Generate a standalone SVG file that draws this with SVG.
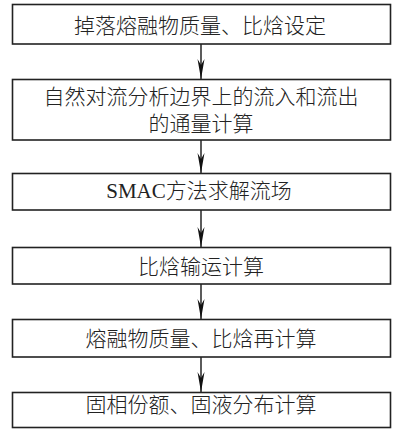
<svg xmlns="http://www.w3.org/2000/svg" width="393" height="429" viewBox="0 0 393 429">
<style>
.box{fill:#fff;stroke:#222;stroke-width:1.6}
.t{font-family:"Liberation Serif","Noto Sans CJK SC",serif;font-size:21px;font-weight:300;fill:#222;text-anchor:middle;dominant-baseline:central}
.c{stroke:#333;stroke-width:1.6;fill:none}
</style>
<defs>
<marker id="ah" markerUnits="userSpaceOnUse" markerWidth="22" markerHeight="8" viewBox="-21 -4 22 8" refX="0" refY="0" orient="auto">
<path d="M0,0 L-20,-3.5 L-14,0 L-20,3.5 Z" fill="#111"/>
</marker>
</defs>
<rect width="393" height="429" fill="#fff"/>
<g id="connectors">
<line class="c" x1="201" y1="44" x2="201" y2="79" marker-end="url(#ah)"/>
<line class="c" x1="201" y1="140" x2="201" y2="173" marker-end="url(#ah)"/>
<line class="c" x1="201" y1="210" x2="201" y2="247" marker-end="url(#ah)"/>
<line class="c" x1="201" y1="284" x2="201" y2="319" marker-end="url(#ah)"/>
<line class="c" x1="201" y1="357" x2="201" y2="392" marker-end="url(#ah)"/>
</g>
<g id="n1"><rect class="box" x="12.5" y="4.5" width="378" height="39.5"/><text class="t" x="200" y="26">掉落熔融物质量、比焓设定</text></g>
<g id="n2"><rect class="box" x="12.5" y="79.5" width="378" height="60.5"/><text class="t" x="201" y="97">自然对流分析边界上的流入和流出</text><text class="t" x="201" y="123.5">的通量计算</text></g>
<g id="n3"><rect class="box" x="12.5" y="173.5" width="378" height="36.5"/><text class="t" x="199" y="191">SMAC方法求解流场</text></g>
<g id="n4"><rect class="box" x="12.5" y="247.5" width="378" height="36.5"/><text class="t" x="201" y="267">比焓输运计算</text></g>
<g id="n5"><rect class="box" x="12.5" y="319.5" width="378" height="37.5"/><text class="t" x="201" y="339">熔融物质量、比焓再计算</text></g>
<g id="n6"><rect class="box" x="12.5" y="392.5" width="378" height="35"/><text class="t" x="201" y="405">固相份额、固液分布计算</text></g>
</svg>
